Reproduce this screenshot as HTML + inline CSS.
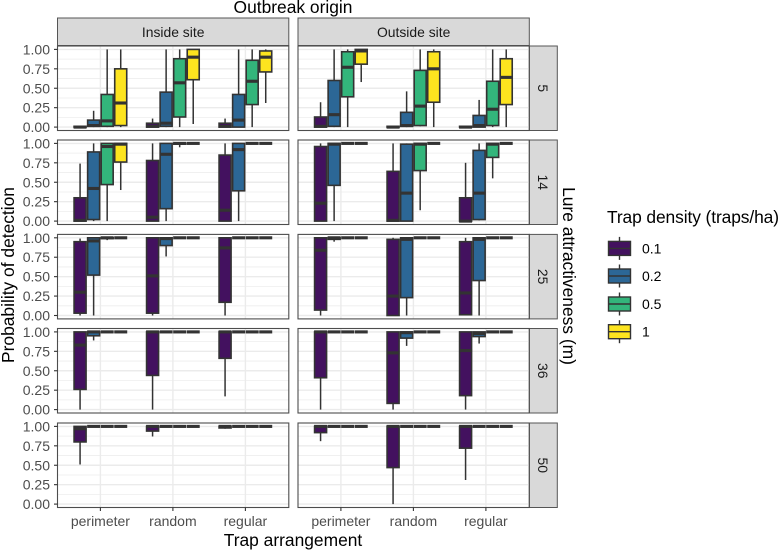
<!DOCTYPE html>
<html lang="en">
<head>
<meta charset="utf-8">
<title>Probability of detection box plots</title>
<style>
html,body{margin:0;padding:0;background:#fff;}
svg{display:block;font-family:"Liberation Sans",sans-serif;filter:blur(0.35px);}
</style>
</head>
<body>
<svg id="chart" width="780" height="551" viewBox="0 0 780 551" xmlns="http://www.w3.org/2000/svg">
  <rect width="780" height="551" fill="#fff"/>
  <text x="293" y="13" font-size="17.4" text-anchor="middle" fill="#000">Outbreak origin</text>
  <text x="293" y="546" font-size="17.4" text-anchor="middle" fill="#000">Trap arrangement</text>
  <text transform="translate(14,275) rotate(-90)" font-size="17.4" text-anchor="middle" fill="#000">Probability of detection</text>
  <text transform="translate(563,276) rotate(90)" font-size="17.4" text-anchor="middle" fill="#000">Lure attractiveness (m)</text>
  <text x="607" y="223" font-size="17.4" textLength="172" fill="#000">Trap density (traps/ha)</text>
  <g id="plot"></g>
  <g id="legend"></g>
</svg>
<script>
const arrangements = ['perimeter', 'random', 'regular'];
const densities = ['0.1', '0.2', '0.5', '1'];
const lures = ['5', '14', '25', '36', '50'];
const origins = ['Inside site', 'Outside site'];
const yTicks = ['0.00', '0.25', '0.50', '0.75', '1.00'];
const yMinorTicks = [0.125, 0.375, 0.625, 0.875];
const fills = ['#43115f', '#2c6796', '#33b57b', '#fde41f'];

// Each box: [whisker low, q1, median, q3, whisker high]; order: arrangement, then density
const inside5 = [
  [[0,0,0,0.01,0.02],[0,0.01,0.02,0.09,0.21],[0,0.01,0.08,0.42,1],[0,0.02,0.31,0.75,1]],
  [[0,0,0.01,0.05,0.11],[0,0.01,0.05,0.45,1],[0,0.13,0.57,0.88,1],[0.04,0.61,0.9,1,1]],
  [[0,0,0.01,0.05,0.11],[0,0,0.09,0.42,1],[0,0.29,0.59,0.86,1],[0.31,0.71,0.9,0.98,1]]
];
const outside5 = [
  [[0,0,0.01,0.13,0.32],[0,0.01,0.16,0.6,1],[0,0.39,0.77,0.97,1],[0.58,0.81,0.98,1,1]],
  [[0,0,0,0.01,0.01],[0,0.01,0.02,0.19,0.46],[0.01,0.02,0.27,0.73,1],[0,0.32,0.75,0.97,1]],
  [[0,0,0,0.01,0.01],[0,0,0.02,0.15,0.35],[0,0.02,0.23,0.59,1],[0,0.29,0.64,0.88,1]]
];
const inside14 = [
  [[0,0,0.01,0.3,0.74],[0,0.02,0.42,0.89,1],[0,0.47,0.96,1,1],[0.4,0.76,0.99,1,1]],
  [[0,0,0.05,0.78,1],[0,0.16,0.86,1,1],[0.95,0.99,1,1,1],[1,1,1,1,1]],
  [[0,0,0.14,0.85,1],[0,0.39,0.92,1,1],[1,1,1,1,1],[1,1,1,1,1]]
];
const outside14 = [
  [[0,0,0.23,0.96,1],[0,0.46,0.99,1,1],[1,1,1,1,1],[1,1,1,1,1]],
  [[0,0,0.01,0.64,1],[0,0,0.36,0.99,1],[0.14,0.65,0.99,1,1],[1,1,1,1,1]],
  [[0,0,0,0.3,0.75],[0.01,0.02,0.36,0.91,1],[0.55,0.82,0.99,1,1],[1,1,1,1,1]]
];
const inside25 = [
  [[0,0.03,0.3,0.95,0.99],[0,0.52,0.96,1,1],[0.97,0.99,1,1,1],[1,1,1,1,1]],
  [[0,0.03,0.51,1,1],[0.76,0.9,0.99,1,1],[1,1,1,1,1],[1,1,1,1,1]],
  [[0,0.17,0.87,1,1],[1,1,1,1,1],[1,1,1,1,1],[1,1,1,1,1]]
];
const outside25 = [
  [[0,0.07,0.84,1,1],[0.95,0.98,1,1,1],[1,1,1,1,1],[1,1,1,1,1]],
  [[0,0,0.25,0.98,1],[0,0.23,0.98,1,1],[1,1,1,1,1],[1,1,1,1,1]],
  [[0,0.01,0.29,0.95,1],[0,0.45,0.98,1,1],[1,1,1,1,1],[1,1,1,1,1]]
];
const inside36 = [
  [[0,0.26,0.83,1,1],[0.89,0.95,1,1,1],[1,1,1,1,1],[1,1,1,1,1]],
  [[0,0.44,1,1,1],[1,1,1,1,1],[1,1,1,1,1],[1,1,1,1,1]],
  [[0.17,0.66,1,1,1],[1,1,1,1,1],[1,1,1,1,1],[1,1,1,1,1]]
];
const outside36 = [
  [[0,0.41,1,1,1],[1,1,1,1,1],[1,1,1,1,1],[1,1,1,1,1]],
  [[0,0.08,0.73,1,1],[0.82,0.92,0.99,1,1],[1,1,1,1,1],[1,1,1,1,1]],
  [[0,0.18,0.76,1,1],[0.85,0.94,0.98,1,1],[1,1,1,1,1],[1,1,1,1,1]]
];
const inside50 = [
  [[0.51,0.8,0.97,1,1],[1,1,1,1,1],[1,1,1,1,1],[1,1,1,1,1]],
  [[0.87,0.94,1,1,1],[1,1,1,1,1],[1,1,1,1,1],[1,1,1,1,1]],
  [[0.97,0.98,1,1,1],[1,1,1,1,1],[1,1,1,1,1],[1,1,1,1,1]]
];
const outside50 = [
  [[0.81,0.92,1,1,1],[1,1,1,1,1],[1,1,1,1,1],[1,1,1,1,1]],
  [[0,0.47,1,1,1],[1,1,1,1,1],[1,1,1,1,1],[1,1,1,1,1]],
  [[0.31,0.72,1,1,1],[1,1,1,1,1],[1,1,1,1,1],[1,1,1,1,1]]
];
const panelValues = [
  [inside5, outside5],
  [inside14, outside14],
  [inside25, outside25],
  [inside36, outside36],
  [inside50, outside50]
];

const NS = 'http://www.w3.org/2000/svg';
const plot = document.getElementById('plot');
const legend = document.getElementById('legend');
const panelLeft = [57.5, 298];
const panelWidth = 231.3;
const panelTop = [46, 140, 234.4, 328.5, 423];
const panelHeight = 84.5;
const stripRight = 557.3;
const INK = '#333333';

function make(parent, tag, attrs, text) {
  const el = document.createElementNS(NS, tag);
  for (const k in attrs) el.setAttribute(k, attrs[k]);
  if (text !== undefined) el.textContent = text;
  parent.appendChild(el);
  return el;
}
function xPos(col, arrangementIndex) {
  return panelLeft[col] + 42.9 + arrangementIndex * 72.5;
}
function dodge(densityIndex) {
  return (densityIndex - 1.5) * 13.55;
}
function yPos(row, v) {
  return panelTop[row] + 3.4 + (1 - v) * 77.7;
}

origins.forEach(function (name, col) {
  const g = make(plot, 'g', {});
  
  
  make(g, 'rect', {x: panelLeft[col], y: 18, width: panelWidth, height: 27.5, fill: '#d9d9d9', stroke: '#555', 'stroke-width': 1});
  make(g, 'text', {x: panelLeft[col] + panelWidth / 2, y: 37, 'font-size': 13.9, 'text-anchor': 'middle', fill: '#1a1a1a'}, name);
});

lures.forEach(function (name, row) {
  const g = make(plot, 'g', {});
  
  
  make(g, 'rect', {x: panelLeft[1] + panelWidth, y: panelTop[row], width: stripRight - panelLeft[1] - panelWidth, height: panelHeight, fill: '#d9d9d9', stroke: '#555', 'stroke-width': 1});
  const cx = panelLeft[1] + panelWidth + 8.5;
  const cy = panelTop[row] + panelHeight / 2;
  make(g, 'text', {transform: 'translate(' + cx + ',' + cy + ') rotate(90)', 'font-size': 13.9, 'text-anchor': 'middle', fill: '#1a1a1a'}, name);
});

panelValues.forEach(function (rowValues, row) {
  rowValues.forEach(function (boxes, col) {
    const panel = make(plot, 'g', {});
    
    
    const L = panelLeft[col];
    const T = panelTop[row];

    yMinorTicks.forEach(function (v) {
      make(panel, 'line', {x1: L, x2: L + panelWidth, y1: yPos(row, v), y2: yPos(row, v), stroke: '#eeeeee', 'stroke-width': 0.8});
    });
    yTicks.forEach(function (t) {
      make(panel, 'line', {x1: L, x2: L + panelWidth, y1: yPos(row, +t), y2: yPos(row, +t), stroke: '#ebebeb', 'stroke-width': 1.4});
    });
    arrangements.forEach(function (a, i) {
      make(panel, 'line', {x1: xPos(col, i), x2: xPos(col, i), y1: T, y2: T + panelHeight, stroke: '#ebebeb', 'stroke-width': 1.4});
    });

    boxes.forEach(function (group, i) {
      group.forEach(function (b, d) {
        const cx = xPos(col, i) + dodge(d);
        const w = 12;
        const box = make(panel, 'g', {});
        
        
        make(box, 'line', {x1: cx, x2: cx, y1: yPos(row, b[0]), y2: yPos(row, b[4]), stroke: INK, 'stroke-width': 1.5});
        make(box, 'rect', {x: cx - w / 2, y: yPos(row, b[3]), width: w, height: Math.max(0, yPos(row, b[1]) - yPos(row, b[3])), fill: fills[d], stroke: INK, 'stroke-width': 1.6});
        make(box, 'line', {x1: cx - w / 2 - 0.5, x2: cx + w / 2 + 0.5, y1: yPos(row, b[2]), y2: yPos(row, b[2]), stroke: INK, 'stroke-width': 3.1});
      });
    });

    make(panel, 'rect', {x: L, y: T, width: panelWidth, height: panelHeight, fill: 'none', stroke: '#4d4d4d', 'stroke-width': 1.1});

    if (col === 0) {
      yTicks.forEach(function (t) {
        const y = yPos(row, +t);
        make(panel, 'line', {x1: L - 3.5, x2: L, y1: y, y2: y, stroke: INK, 'stroke-width': 1.1});
        const lab = make(panel, 'text', {x: 50, y: y + 5, 'font-size': 14, 'text-anchor': 'end', fill: '#4d4d4d'}, t);
        
        
      });
    }
    if (row === lures.length - 1) {
      arrangements.forEach(function (a, i) {
        const x = xPos(col, i);
        make(panel, 'line', {x1: x, x2: x, y1: T + panelHeight, y2: T + panelHeight + 3.5, stroke: INK, 'stroke-width': 1.1});
        const lab = make(panel, 'text', {x: x, y: 526, 'font-size': 14, 'text-anchor': 'middle', fill: '#4d4d4d'}, a);
        
        
      });
    }
  });
});

const legendY = [248.4, 276, 304, 331.7];
densities.forEach(function (name, d) {
  const g = make(legend, 'g', {});
  
  
  const y = legendY[d];
  make(g, 'line', {x1: 619.5, x2: 619.5, y1: y - 11.5, y2: y + 11.5, stroke: INK, 'stroke-width': 1.4});
  make(g, 'rect', {x: 608.5, y: y - 7, width: 22, height: 14, fill: fills[d], stroke: INK, 'stroke-width': 1.4});
  make(g, 'line', {x1: 608.5, x2: 630.5, y1: y, y2: y, stroke: INK, 'stroke-width': 1.4});
  make(g, 'text', {x: 642, y: y + 5, 'font-size': 14, fill: '#000'}, name);
});
</script>
</body>
</html>
